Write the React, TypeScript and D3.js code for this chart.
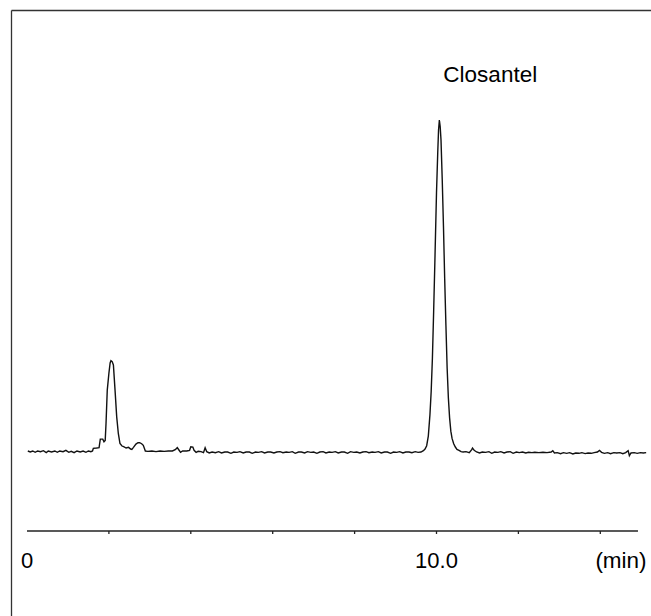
import React from "react";
import * as d3 from "d3";

// chromatogram trace pieces: [time (min), signal (% of main peak)]
const leadBaseline: [number, number][] = [
  [0.02, 0], [0.08, -0.3], [0.14, 0], [0.2, -0.4], [0.26, 0], [0.33, -0.2], [0.4, 0.1], [0.47, -0.5],
  [0.52, 0], [0.6, -0.3], [0.68, 0], [0.74, -0.4], [0.8, 0], [0.88, -0.2], [0.95, 0.2], [1.02, -0.4],
  [1.08, -0.1], [1.15, -0.5], [1.22, 0], [1.3, -0.3], [1.37, 0], [1.44, -0.4], [1.5, 0], [1.56, -0.2],
];

const firstPeak: [number, number][] = [
  [1.6, 0], [1.62, 0.8], [1.7, 0.9], [1.76, 1.0], [1.79, 3.6], [1.85, 3.6], [1.88, 2.8], [1.91, 3.2],
  [1.93, 8.4], [1.96, 18.4], [2.0, 23.5], [2.03, 26.6], [2.05, 27.3], [2.08, 27], [2.11, 26], [2.15, 18.4],
  [2.19, 10.4], [2.23, 5.3], [2.27, 2.3], [2.32, 1.5], [2.36, 1.3], [2.42, 0.9], [2.48, 1.1], [2.53, 0.6],
  [2.56, 0.5], [2.6, 1.1], [2.66, 2.1], [2.71, 2.5], [2.75, 2.5], [2.8, 2.2], [2.84, 1.7], [2.89, 0],
];

const midBaseline: [number, number][] = [
  [2.95, -0.1], [3.05, 0], [3.15, -0.2], [3.25, 0], [3.35, -0.1], [3.45, 0], [3.55, 0], [3.62, 0.4],
  [3.67, 1.0], [3.71, 0.3], [3.75, -0.4], [3.8, 0], [3.9, 0], [3.97, 0.2], [4.0, 1.3], [4.05, 1.2],
  [4.08, 0.2], [4.13, -0.4], [4.18, -0.1], [4.25, -0.2], [4.31, -0.5], [4.35, 1.0], [4.39, -0.2], [4.45, -0.6],
  [4.52, -0.3], [4.6, -0.5], [4.68, -0.2], [4.75, -0.6], [4.83, -0.3], [4.9, -0.3], [4.98, -0.7], [5.05, -0.3],
  [5.13, -0.4], [5.2, -0.2], [5.28, -0.6], [5.35, -0.3], [5.43, -0.3], [5.5, -0.7], [5.58, -0.3], [5.65, -0.4],
  [5.73, -0.2], [5.8, -0.6], [5.88, -0.3], [5.95, -0.3], [6.03, -0.6], [6.1, -0.3], [6.18, -0.2], [6.25, -0.5],
  [6.33, -0.3], [6.4, -0.4], [6.48, -0.2], [6.55, -0.7], [6.63, -0.3], [6.7, -0.3], [6.78, -0.6], [6.85, -0.2],
  [6.93, -0.4], [7.0, -0.3], [7.08, -0.7], [7.15, -0.3], [7.23, -0.2], [7.3, -0.6], [7.38, -0.3], [7.45, -0.4],
  [7.53, -0.2], [7.6, -0.6], [7.68, -0.3], [7.75, -0.3], [7.83, -0.7], [7.9, -0.2], [7.98, -0.4], [8.05, -0.3],
  [8.13, -0.6], [8.2, -0.3], [8.28, -0.2], [8.35, -0.5], [8.43, -0.3], [8.5, -0.4], [8.58, -0.2], [8.65, -0.6],
  [8.73, -0.3], [8.8, -0.3], [8.88, -0.7], [8.95, -0.3], [9.03, -0.4], [9.1, -0.2], [9.18, -0.6], [9.25, -0.3],
  [9.33, -0.3], [9.4, -0.5], [9.48, -0.2], [9.55, -0.4], [9.62, -0.3],
];

const closantelPeak: [number, number][] = [
  [9.68, 0.1], [9.72, 0.6], [9.76, 1.6], [9.8, 4.5], [9.84, 11], [9.87, 18], [9.9, 28], [9.93, 42],
  [9.96, 57], [10.0, 78], [10.03, 90], [10.05, 97], [10.07, 100], [10.09, 98], [10.11, 94], [10.14, 82],
  [10.17, 68], [10.2, 52], [10.23, 38], [10.26, 25], [10.29, 16], [10.32, 10], [10.35, 6], [10.38, 3.8],
  [10.42, 2.2], [10.46, 1.2], [10.5, 0.5], [10.55, 0.2], [10.6, -0.2],
];

const tailBaseline: [number, number][] = [
  [10.65, -0.3], [10.72, -0.2], [10.8, -0.5], [10.86, 0.4], [10.88, 0.9], [10.92, 0.2], [10.98, -0.3], [11.05, -0.6],
  [11.12, -0.3], [11.2, -0.4], [11.28, -0.2], [11.35, -0.7], [11.42, -0.3], [11.5, -0.4], [11.57, -0.2], [11.65, -0.6],
  [11.72, -0.3], [11.8, -0.2], [11.87, -0.7], [11.95, -0.3], [12.02, -0.5], [12.1, -0.3], [12.18, -0.6], [12.25, -0.4],
  [12.33, -0.5], [12.4, -0.4], [12.5, -0.5], [12.6, -0.4], [12.7, -0.5], [12.8, -0.3], [12.84, 0.1], [12.88, -0.6],
  [12.95, -0.5], [13.03, -0.8], [13.1, -0.5], [13.18, -0.7], [13.25, -0.5], [13.33, -0.9], [13.4, -0.6], [13.48, -0.7],
  [13.55, -0.5], [13.63, -0.8], [13.7, -0.6], [13.78, -0.7], [13.85, -0.5], [13.93, -0.3], [13.98, 0.2], [14.03, -0.4],
  [14.1, -0.7], [14.18, -0.5], [14.25, -0.8], [14.33, -0.5], [14.4, -0.6], [14.48, -0.5], [14.55, -0.8], [14.62, -0.5],
  [14.68, 0.1], [14.71, -1.4], [14.75, -0.6], [14.83, -0.5], [14.9, -0.7], [14.98, -0.5], [15.05, -0.6], [15.12, -0.5],
];

const tickValues = [0, 2, 4, 6, 8, 10, 12, 14];
const tickLabels: [number, string][] = [[0, "0"], [10, "10.0"]];
const axisEnd = 14.92;
const unitLabel = "(min)";
const peakNames: [number, string][] = [[10.07, "Closantel"]];

const W = 651;
const H = 616;
const FONT = "'Liberation Sans', Arial, sans-serif";

export default function App() {
  const x = d3.scaleLinear().domain([0, 10]).range([27, 436.5]);
  const y = d3.scaleLinear().domain([0, 100]).range([451, 120]);
  const axisY = 531;

  const trace = [...leadBaseline, ...firstPeak, ...midBaseline, ...closantelPeak, ...tailBaseline];
  const line = d3
    .line<[number, number]>()
    .x(d => x(d[0]))
    .y(d => y(d[1]));

  return (
    <div style={{ position: "fixed", left: 0, top: 0 }}>
      <svg width={W} height={H} style={{ display: "block", background: "#fff" }}>
        {/* frame, only top and left edges visible */}
        <line x1={11.5} y1={10.5} x2={W} y2={10.5} stroke="#333" strokeWidth={1.3} />
        <line x1={11.5} y1={10.5} x2={11.5} y2={H} stroke="#333" strokeWidth={1.3} />

        <path d={line(trace) || ""} fill="none" stroke="#111" strokeWidth={1.4} strokeLinejoin="miter" />

        {peakNames.map(([t, name]) => (
          <text key={name} x={x(t) + 4} y={82} fontFamily={FONT} fontSize={22.5} fill="#000">
            {name}
          </text>
        ))}

        {/* time axis */}
        <line x1={x(0)} y1={axisY} x2={x(axisEnd)} y2={axisY} stroke="#222" strokeWidth={1.3} />
        {tickValues.filter(v => v > 0).map(v => (
          <line key={v} x1={x(v)} y1={axisY} x2={x(v)} y2={axisY + 3} stroke="#222" strokeWidth={1.3} />
        ))}
        {tickLabels.map(([v, label]) => (
          <text key={label} x={x(v)} y={568} textAnchor="middle" fontFamily={FONT} fontSize={22} fill="#000">
            {label}
          </text>
        ))}
        <text x={621} y={568} textAnchor="middle" fontFamily={FONT} fontSize={22.5} fill="#000">
          {unitLabel}
        </text>
      </svg>
    </div>
  );
}
